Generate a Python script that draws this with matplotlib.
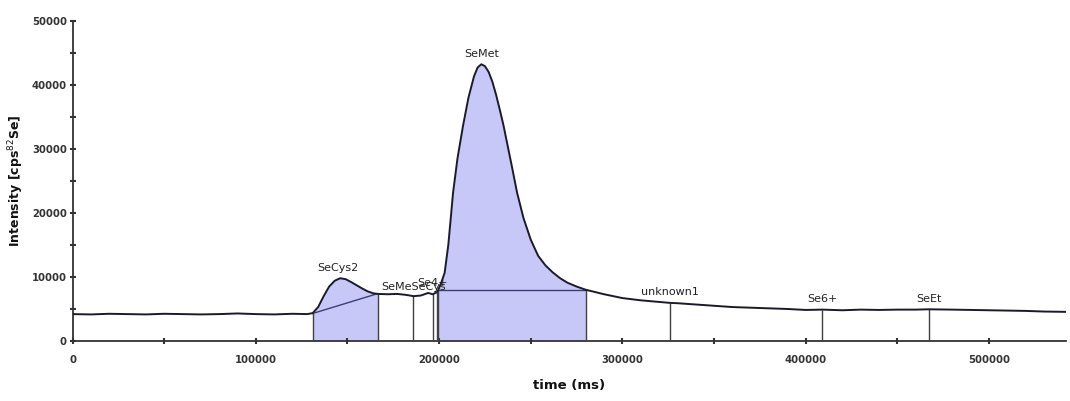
import numpy as np
import matplotlib
matplotlib.use("Agg")
import matplotlib.pyplot as plt

# ---- data ----
time_ms = [0, 10000, 20000, 30000, 40000, 50000, 60000, 70000, 80000, 90000,
           100000, 110000, 120000, 128000, 131000, 134000, 137000, 140000, 143000,
           146000, 149000, 152000, 155000, 158000, 161000, 164000, 166500, 172000,
           177000, 182000, 186000, 190000, 194000, 196500, 198700, 199400, 201000,
           203000, 205000, 207600, 210000, 213000, 216000, 219000, 221000, 223000,
           225000, 227000, 229000, 231000, 233000, 235000, 237000, 239500, 242500,
           246000, 250000, 254000, 258000, 262000, 266000, 270000, 275000, 280000,
           290000, 300000, 310000, 320000, 326000, 330000, 340000, 350000, 360000,
           370000, 380000, 390000, 400000, 409000, 420000, 430000, 440000, 450000,
           460000, 467000, 480000, 490000, 500000, 510000, 520000, 530000, 542000]
intensity = [4200, 4150, 4250, 4200, 4150, 4250, 4200, 4150, 4200, 4300,
             4200, 4150, 4250, 4200, 4350, 5300, 7000, 8500, 9400,
             9800, 9650, 9200, 8700, 8200, 7750, 7450, 7350, 7300,
             7350, 7200, 7000, 7100, 7500, 7300, 7600, 7900, 9000,
             10650, 15000, 23170, 28500, 33560, 38000, 41300, 42700, 43200,
             42900, 42000, 40500, 38500, 36200, 33800, 31000, 27500, 23170,
             19200, 15800, 13300, 11800, 10700, 9800, 9100, 8500, 8000,
             7300, 6700, 6350, 6100, 5950, 5900, 5700, 5500, 5300,
             5200, 5100, 5000, 4850, 4900, 4800, 4900, 4850, 4900,
             4900, 4950, 4900, 4850, 4800, 4750, 4700, 4600, 4550]

peak_names = ["SeCys2", "SeMeSeCys", "Se4+", "SeMet", "unknown1", "Se6+", "SeEt"]
peak_label_x = [145000, 186000, 196500, 223000, 326000, 409000, 467000]
peak_label_y = [10600, 7600, 8200, 44000, 6900, 5700, 5700]

boundaries = [131000, 166500, 186000, 196500, 198700, 199400, 280000, 326000, 409000, 467000]

filled_ranges = [(131000, 166500), (199400, 280000)]
baseline_segments = [((131000, 4300), (166500, 7400)), ((199400, 8000), (280000, 8000))]

x_ticks = [0, 100000, 200000, 300000, 400000, 500000]
y_ticks = [0, 10000, 20000, 30000, 40000, 50000]

# ---- plotting ----
t = np.array(time_ms)
y = np.array(intensity)

fig = plt.figure(figsize=(10.70, 4.01), dpi=100)
ax = fig.add_axes([0.0678, 0.1496, 0.9285, 0.7988])

fill_color = "#c8c8f8"
for a, b in filled_ranges:
    m = (t >= a) & (t <= b)
    ax.fill_between(t[m], 0, y[m], color=fill_color, lw=0, zorder=1)

for (x0, y0), (x1, y1) in baseline_segments:
    ax.plot([x0, x1], [y0, y1], color="#3c3c78", lw=1.0, zorder=3)

heights = np.interp(boundaries, t, y)
ax.vlines(boundaries, 0, heights, color="#404040", lw=1.0, zorder=3)

ax.plot(t, y, color="#1a1a2a", lw=1.4, zorder=4)

for name, lx, ly in zip(peak_names, peak_label_x, peak_label_y):
    ax.text(lx, ly, name, ha="center", va="bottom", fontsize=8,
            color="#222222", zorder=5)

ax.set_xlim(0, 542000)
ax.set_ylim(0, 50000)
ax.set_xticks(x_ticks)
ax.set_yticks(y_ticks)
ax.set_xticks(np.arange(50000, 542000, 100000), minor=True)
ax.set_yticks(np.arange(5000, 50000, 10000), minor=True)
ax.set_xticklabels([str(v) for v in x_ticks])
ax.set_yticklabels([str(v) for v in y_ticks])

for sp in ["top", "right"]:
    ax.spines[sp].set_visible(False)
for sp in ["left", "bottom"]:
    ax.spines[sp].set_color("#333333")
    ax.spines[sp].set_linewidth(1.3)

ax.tick_params(which="both", direction="inout", length=4, width=1.5, colors="#333333")
ax.tick_params(axis="x", pad=8)
ax.tick_params(axis="y", pad=2)
for lbl in ax.get_xticklabels() + ax.get_yticklabels():
    lbl.set_fontfamily("DejaVu Sans")
    lbl.set_fontstretch("condensed")
    lbl.set_fontweight("bold")
    lbl.set_fontsize(8)
    lbl.set_color("#333333")

ax.set_xlabel("time (ms)", fontsize=9.5, fontweight="bold", labelpad=10, color="#111111")
ax.set_ylabel("Intensity [cps$^{82}$Se]", fontsize=9, fontweight="bold", labelpad=4, color="#111111")

fig.savefig("out.png", dpi=100)
